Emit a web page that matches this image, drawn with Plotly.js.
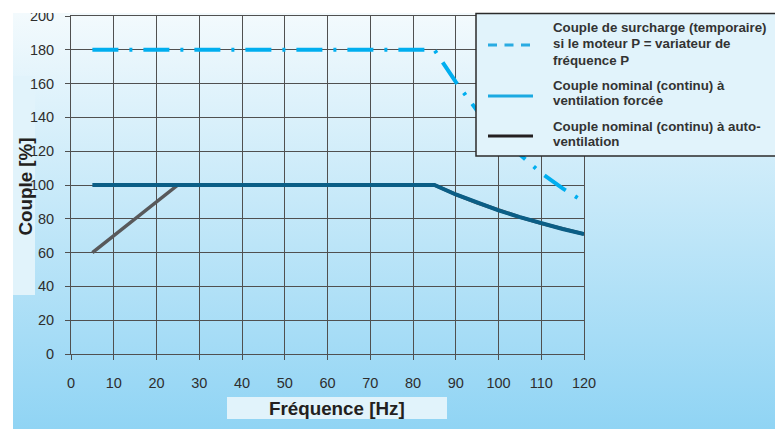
<!DOCTYPE html>
<html>
<head>
<meta charset="utf-8">
<script src="https://cdn.plot.ly/plotly-3.0.1.min.js"></script>
<style>
  html, body { margin: 0; padding: 0; background: #ffffff; }
  #chart {
    width: 775px; height: 429px;
    background: linear-gradient(#f3fafd, #90d4f4) 13px 13px / 762px 416px no-repeat, #ffffff;
  }
</style>
</head>
<body>
<div id="chart"></div>
<script>
// ---- Data ----
const overloadFreq   = [5, 85, 90, 95, 100, 105, 110, 115, 120];
const overloadTorque = [180, 180, 161, 144, 130, 118, 107, 98, 90];

const forcedFreq   = [5, 85, 90, 95, 100, 105, 110, 115, 120];
const forcedTorque = [100, 100, 94.4, 89.5, 85, 81, 77.3, 74, 71];

const selfFreq   = [5, 25, 85, 90, 95, 100, 105, 110, 115, 120];
const selfTorque = [60, 100, 100, 94.4, 89.5, 85, 81, 77.3, 74, 71];

// legend text, one list of lines per entry
const legendLines = [
  ["Couple de surcharge (temporaire)", "si le moteur P = variateur de", "fréquence P"],
  ["Couple nominal (continu) à", "ventilation forcée"],
  ["Couple nominal (continu) à auto-", "ventilation"]
];
const xTitle = "Fréquence [Hz]";
const yTitle = "Couple [%]";

// ---- Layout helpers (pixel -> paper) ----
const L = 71, R = 584, T = 16, B = 354, W = 775, H = 429;
const px = x => (x - L) / (R - L);
const py = y => (B - y) / (B - T);

const FONT = '"Liberation Sans", Arial, Helvetica, sans-serif';
const GRID = '#505050';

const traces = [
  {
    x: overloadFreq, y: overloadTorque, mode: 'lines', showlegend: false,
    line: {color: '#00aeef', width: 4, dash: '26px,11px,3px,11px'},
    hoverinfo: 'skip'
  },
  {
    x: selfFreq, y: selfTorque, mode: 'lines', showlegend: false,
    line: {color: '#58595b', width: 3.5},
    hoverinfo: 'skip'
  },
  {
    x: forcedFreq, y: forcedTorque, mode: 'lines', showlegend: false,
    line: {color: '#0b5e86', width: 4},
    hoverinfo: 'skip'
  }
];

const axisCommon = {
  showgrid: true, gridcolor: GRID, gridwidth: 1,
  ticks: 'outside', ticklen: 5, tickcolor: GRID, tickwidth: 1,
  showline: true, linecolor: GRID, linewidth: 1, mirror: true,
  zeroline: false, fixedrange: true,
  tickfont: {family: FONT, size: 14.5, color: '#2e2e2e'}
};

const shapes = [
  // y title box
  {type: 'rect', xref: 'paper', yref: 'paper', layer: 'below',
   x0: px(13), x1: px(35), y0: py(295), y1: py(76),
   fillcolor: '#e1f3fb', line: {width: 0}},
  // x title box
  {type: 'rect', xref: 'paper', yref: 'paper', layer: 'below',
   x0: px(227), x1: px(447), y0: py(419), y1: py(397),
   fillcolor: '#e1f3fb', line: {width: 0}},
  // white strip at the top
  {type: 'rect', xref: 'paper', yref: 'paper', layer: 'above',
   x0: px(0), x1: px(W), y0: py(13), y1: py(0),
   fillcolor: '#ffffff', line: {width: 0}},
  // legend box
  {type: 'rect', xref: 'paper', yref: 'paper', layer: 'above',
   x0: px(476), x1: px(790), y0: py(156), y1: py(13.5),
   fillcolor: '#e1f3fb', line: {color: '#2b2b2b', width: 1.5}},
  // legend samples
  {type: 'line', xref: 'paper', yref: 'paper', layer: 'above',
   x0: px(488), x1: px(533), y0: py(45), y1: py(45),
   line: {color: '#29abe2', width: 3, dash: '9px,7.5px'}},
  {type: 'line', xref: 'paper', yref: 'paper', layer: 'above',
   x0: px(488), x1: px(533), y0: py(96), y1: py(96),
   line: {color: '#1ba9e1', width: 3}},
  {type: 'line', xref: 'paper', yref: 'paper', layer: 'above',
   x0: px(488), x1: px(533), y0: py(136), y1: py(136),
   line: {color: '#231f20', width: 3}}
];

const legendLineY = [[28, 44, 60], [85, 100.5], [126, 141.5]];
const annotations = [];
legendLines.forEach((lines, i) => {
  lines.forEach((t, j) => {
    annotations.push({
      xref: 'paper', yref: 'paper', x: px(551), y: py(legendLineY[i][j]),
      xanchor: 'left', yanchor: 'middle', align: 'left', showarrow: false,
      text: '<b>' + t + '</b>',
      font: {family: FONT, size: 13.3, color: '#333333'}
    });
  });
});
annotations.push({
  xref: 'paper', yref: 'paper', x: px(337), y: py(408.5),
  xanchor: 'center', yanchor: 'middle', showarrow: false,
  text: '<b>' + xTitle + '</b>',
  font: {family: FONT, size: 18.8, color: '#231f20'}
});
annotations.push({
  xref: 'paper', yref: 'paper', x: px(24.5), y: py(187),
  xanchor: 'center', yanchor: 'middle', showarrow: false, textangle: -90,
  text: '<b>' + yTitle + '</b>',
  font: {family: FONT, size: 18.8, color: '#231f20'}
});

const layout = {
  width: W, height: H,
  margin: {l: L, r: W - R, t: T, b: H - B, pad: 0},
  paper_bgcolor: 'rgba(0,0,0,0)',
  plot_bgcolor: 'rgba(0,0,0,0)',
  showlegend: false,
  font: {family: FONT},
  xaxis: Object.assign({}, axisCommon, {range: [0, 120], tick0: 0, dtick: 10, ticklabelstandoff: 11}),
  yaxis: Object.assign({}, axisCommon, {range: [0, 200], tick0: 0, dtick: 20, ticklabelstandoff: 8}),
  shapes: shapes,
  annotations: annotations
};

Plotly.newPlot('chart', traces, layout, {displayModeBar: false, staticPlot: true});
</script>
</body>
</html>
